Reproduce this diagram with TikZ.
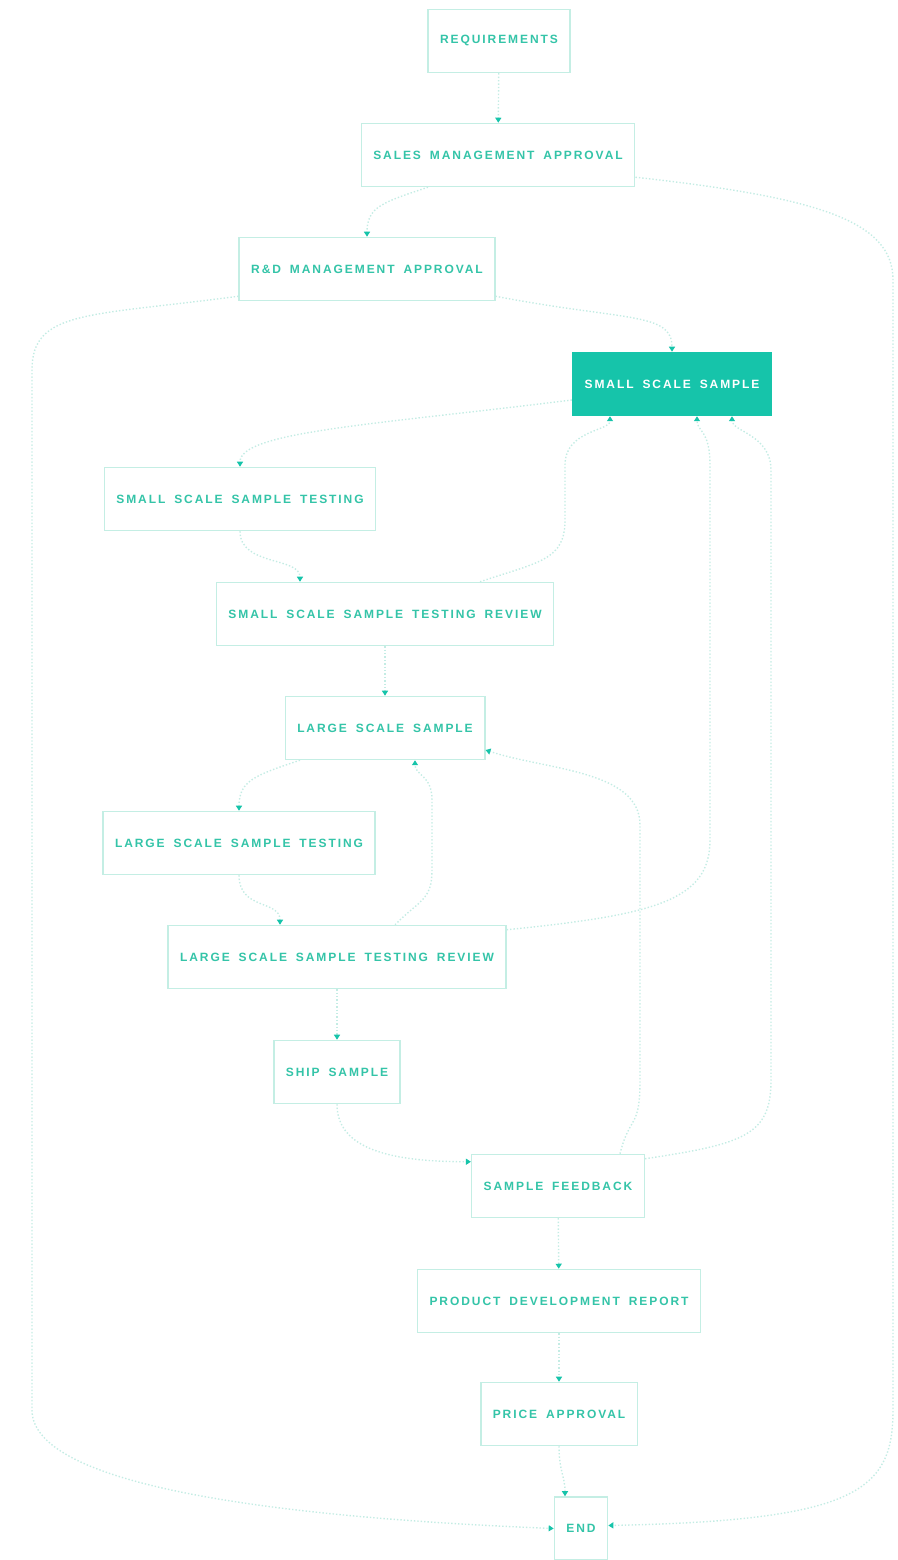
\documentclass[tikz,border=0pt]{standalone}
\usepackage{fontspec}
\setmainfont{Liberation Sans}
\newfontfamily\boxfont{Liberation Sans Bold}[LetterSpace=16,WordSpace=1.7]
\usepackage{tikz}
\usetikzlibrary{arrows.meta,positioning,calc}
\definecolor{dteal}{RGB}{22,196,170}
\definecolor{lteal}{RGB}{196,238,228}
\definecolor{tteal}{RGB}{52,196,168}
\definecolor{pteal}{RGB}{196,236,228}
\tikzstyle{block} = [rectangle, draw=lteal, line width=1.5pt, fill=white,
  text=tteal, font=\boxfont\fontsize{12}{14}\selectfont,
  inner xsep=12pt, minimum height=63pt]
\tikzstyle{hot} = [block, draw=dteal, fill=dteal, text=white]
\tikzstyle{line} = [draw=pteal, line width=1.4pt, dotted,
  -{Triangle[length=5pt,width=6pt,color=dteal]}]
\begin{document}
\begin{tikzpicture}[x=1pt,y=1pt]
  \useasboundingbox (0,0) rectangle (897,1560);
  \def\lrail{32}
  \def\rrail{893}
  \node [block] (1) at (499,1519) {REQUIREMENTS};
  \node [block] (2) at (498,1405) {SALES MANAGEMENT APPROVAL};
  \node [block] (3) at (367,1291) {R\&D MANAGEMENT APPROVAL};
  \node [hot] (4) at (672,1176) {SMALL SCALE SAMPLE};
  \node [block] (5) at (240,1061) {SMALL SCALE SAMPLE TESTING};
  \node [block] (6) at (385,946) {SMALL SCALE SAMPLE TESTING REVIEW};
  \node [block] (7) at (385,832) {LARGE SCALE SAMPLE};
  \node [block] (8) at (239,717) {LARGE SCALE SAMPLE TESTING};
  \node [block] (9) at (337,603) {LARGE SCALE SAMPLE TESTING REVIEW};
  \node [block] (10) at (337,488) {SHIP SAMPLE};
  \node [block] (11) at (558,374) {SAMPLE FEEDBACK};
  \node [block] (12) at (559,259) {PRODUCT DEVELOPMENT REPORT};
  \node [block] (13) at (559,146) {PRICE APPROVAL};
  \node [block] (14) at (581,31.5) {END};

  \path [line] (1) -- (2);
  \path [line] ([xshift=-70pt]2.south) .. controls +(-45,-15) and +(0,30) .. (3.north);
  \path [line] ([yshift=10pt]2.south east) .. controls +(180,-20) and +(0,60) .. (\rrail,1280)
    -- (\rrail,150) .. controls +(0,-80) and +(250,5) .. ([yshift=3pt]14.east);
  \path [line] ([yshift=5pt]3.south east) .. controls +(130,-25) and +(0,40) .. (4.north);
  \path [line] ([yshift=5pt]3.south west) .. controls +(-150,-20) and +(0,60) .. (\lrail,1190)
    -- (\lrail,150) .. controls +(0,-80) and +(-250,10) .. (14.west);

  \path [line] ([yshift=-16pt]4.west) .. controls +(-200,-25) and +(0,35) .. (5.north);
  \path [line] (5.south) .. controls +(0,-35) and +(0,25) .. ([xshift=-85pt]6.north);
  \path [line] ([xshift=95pt]6.north) .. controls +(60,20) and +(0,-40) .. (565,1040)
    -- (565,1095) .. controls +(0,35) and +(0,-15) .. ([xshift=-62pt]4.south);
  \path [line] (6) -- (7);

  \path [line] ([xshift=-85pt]7.south) .. controls +(-45,-15) and +(0,30) .. (8.north);
  \path [line] (8.south) .. controls +(0,-35) and +(0,25) .. ([xshift=-57pt]9.north);
  \path [line] ([xshift=58pt]9.north) .. controls +(25,25) and +(0,-30) .. (432,690)
    -- (432,760) .. controls +(0,25) and +(0,-15) .. ([xshift=30pt]7.south);
  \path [line] ([yshift=-5pt]9.north east) .. controls +(150,15) and +(0,-60) .. (710,720)
    -- (710,1095) .. controls +(0,35) and +(0,-15) .. ([xshift=25pt]4.south);
  \path [line] (9) -- (10);

  \path [line] (10.south) .. controls +(0,-45) and +(-80,0) .. ([yshift=-8pt]11.north west);
  \path [line] ([xshift=62pt]11.north) .. controls +(10,40) and +(0,-50) .. (640,480)
    -- (640,735) .. controls +(0,55) and +(60,-20) .. ([yshift=-22pt]7.east);
  \path [line] ([yshift=-5pt]11.north east) .. controls +(100,15) and +(0,-55) .. (771,480)
    -- (771,1090) .. controls +(0,35) and +(0,-15) .. ([xshift=60pt]4.south);
  \path [line] (11) -- (12);
  \path [line] (12) -- (13);
  \path [line] (13.south) .. controls +(0,-25) and +(0,20) .. ([xshift=-16pt]14.north);
\end{tikzpicture}
\end{document}
